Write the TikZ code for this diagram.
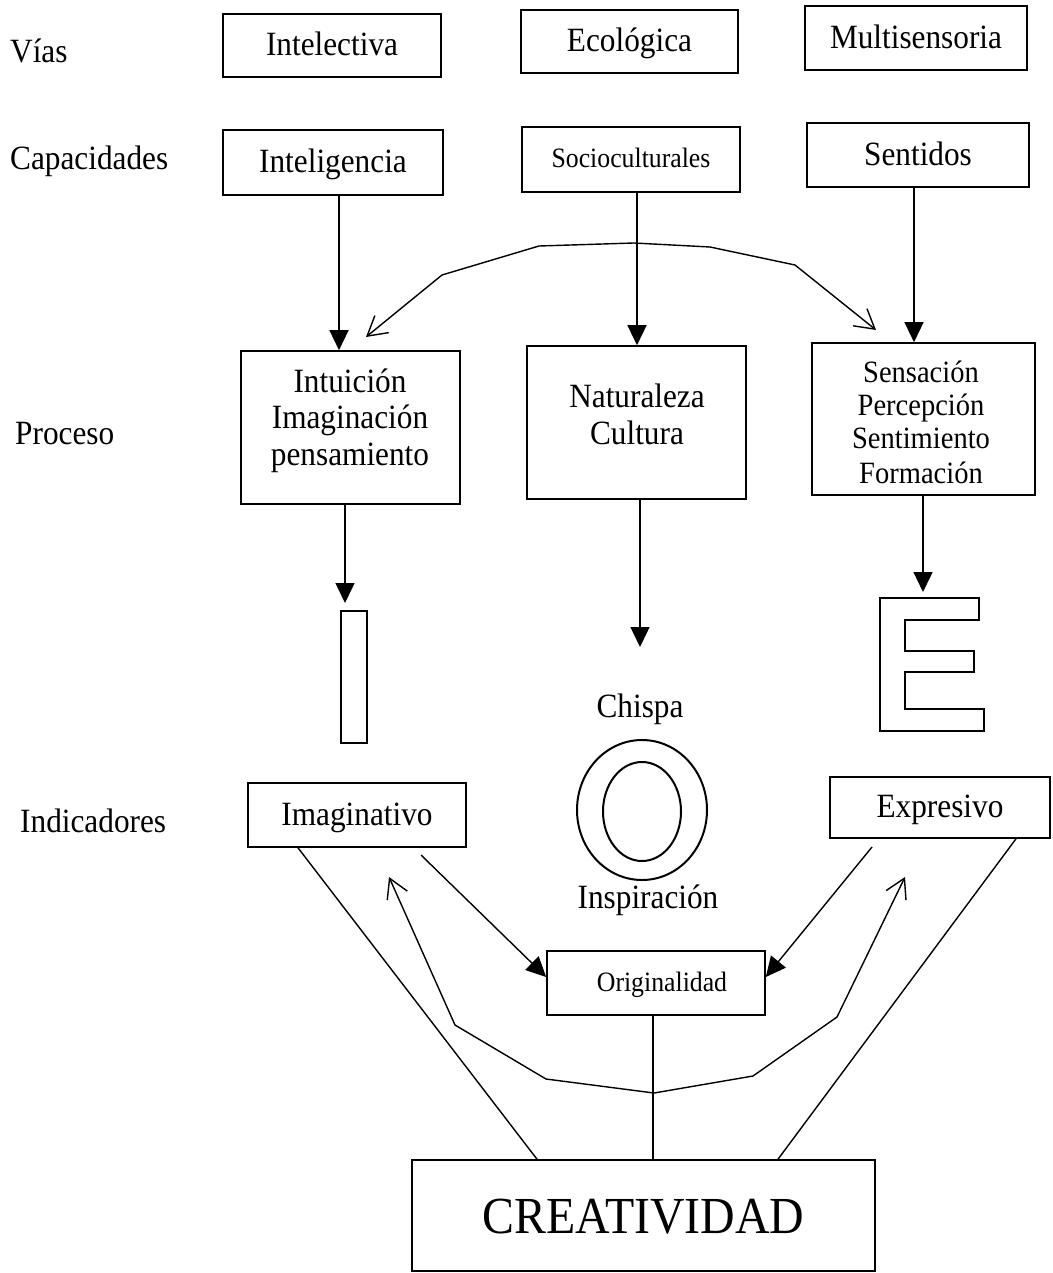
\documentclass[tikz,border=0pt]{standalone}
\usepackage{fontspec}
\setmainfont{Liberation Serif}[FakeStretch=0.92]
\usetikzlibrary{arrows.meta,shapes.geometric}
\begin{document}
\begin{tikzpicture}[x=1pt,y=-1pt,
  fs/.style={font=\fontsize{#1pt}{#1pt}\selectfont, text height={0.7*#1pt}, text depth={0.1*#1pt}},
  box/.style={draw, line width=1.6pt, inner sep=0pt},
  conn/.style={line width=1.4pt},
  fillarrow/.style={conn, -{Triangle[length=20pt,width=19pt]}},
  openarrow/.style={conn, {Straight Barb[length=19pt,width=22pt]}-{Straight Barb[length=19pt,width=22pt]}},
  lbl/.style={anchor=base west, inner sep=0pt, fs=34},
  txt/.style={anchor=base, inner sep=0pt}
]
\useasboundingbox (0,0) rectangle (1052,1273);

% row labels
\node[lbl] (lvias) at (10,63) {Vías};
\node[lbl] (lcap) at (10,170) {Capacidades};
\node[lbl] (lproc) at (15,444) {Proceso};
\node[lbl] (lind) at (20,832) {Indicadores};

% Vías
\node[box, fs=34, minimum width=218pt, minimum height=63pt] (vint) at (332,45.5) {Intelectiva};
\node[box, fs=34, minimum width=217pt, minimum height=63pt] (veco) at (629.5,41.5) {Ecológica};
\node[box, fs=34, minimum width=222pt, minimum height=64pt] (vmul) at (916,38) {Multisensoria};

% Capacidades
\node[box, fs=34, minimum width=220pt, minimum height=65pt] (cint) at (333,162.5) {Inteligencia};
\node[box, fs=28, minimum width=218pt, minimum height=65pt] (csoc) at (631,159.5) {Socioculturales};
\node[box, fs=34, minimum width=222pt, minimum height=64pt] (csen) at (918,155) {Sentidos};

% Proceso
\node[box, minimum width=219pt, minimum height=153pt] (pint) at (350.5,427.5) {};
\node[txt, fs=34] (pint1) at (350,392) {Intuición};
\node[txt, fs=34] (pint2) at (350,428) {Imaginación};
\node[txt, fs=34] (pint3) at (350,465) {pensamiento};

\node[box, minimum width=219pt, minimum height=153pt] (pnat) at (636.5,422.5) {};
\node[txt, fs=34] (pnat1) at (637,407) {Naturaleza};
\node[txt, fs=34] (pnat2) at (637,444) {Cultura};

\node[box, minimum width=223pt, minimum height=152pt] (psen) at (923.5,419) {};
\node[txt, fs=31] (psen1) at (921,382) {Sensación};
\node[txt, fs=31] (psen2) at (921,415) {Percepción};
\node[txt, fs=31] (psen3) at (921,448) {Sentimiento};
\node[txt, fs=31] (psen4) at (921,483) {Formación};

% arrows capacidades -> proceso
\draw[fillarrow] ([xshift=6pt]cint.south) -- ([xshift=6pt]cint.south |- pint.north);
\draw[fillarrow] ([xshift=6pt]csoc.south) -- ([xshift=6pt]csoc.south |- pnat.north);
\draw[fillarrow] ([xshift=-4pt]csen.south) -- ([xshift=-4pt]csen.south |- psen.north);

% curved double arrow
\coordinate (ca) at (366,337);
\coordinate (cb) at (876,330);
\draw[openarrow] (ca) -- (442,275) -- (539,246) -- (634,243) -- (710,247) -- (795,265) -- (cb);

% letters I, O, E
\node[draw, line width=1.8pt, minimum width=26pt, minimum height=132pt, inner sep=0pt] (ibar) at (354,677) {};
\node[draw, ellipse, line width=2pt, minimum width=130pt, minimum height=140pt, inner sep=0pt] (oout) at (642,810) {};
\node[draw, ellipse, line width=2pt, minimum width=78pt, minimum height=99pt, inner sep=0pt] (oin) at (642,811.5) {};
\draw[line width=1.8pt] (880,598) -- (979,598) -- (979,620) -- (905,620) -- (905,651) -- (974,651)
  -- (974,672) -- (905,672) -- (905,709) -- (984,709) -- (984,731) -- (880,731) -- cycle;

\node[txt, fs=34] (chispa) at (640,717) {Chispa};
\node[txt, fs=34] (insp) at (648,908) {Inspiración};

% arrows proceso -> letters
\coordinate (itip) at (345,603);
\coordinate (ctip) at (640,647);
\coordinate (etip) at (923,592);
\draw[fillarrow] (pint.south -| itip) -- (itip);
\draw[fillarrow] (pnat.south -| ctip) -- (ctip);
\draw[fillarrow] (psen.south -| etip) -- (etip);

% Indicadores
\node[box, fs=34, minimum width=218pt, minimum height=64pt] (iimag) at (357,815) {Imaginativo};
\node[box, fs=34, minimum width=220pt, minimum height=61pt] (iexp) at (940,807.5) {Expresivo};
\node[box, fs=28, minimum width=218pt, minimum height=64pt] (orig) at (656,983) {\hspace*{12pt}Originalidad};
\node[box, fs=52, text depth=0pt, minimum width=463pt, minimum height=111pt] (crea) at (643.5,1215.5) {CREATIVIDAD};

% arrows to Originalidad
\coordinate (ia) at (421,855);
\coordinate (ea) at (872,847);
\draw[fillarrow] (ia) -- ([yshift=6pt]orig.west);
\draw[fillarrow] (ea) -- ([yshift=6pt]orig.east);

% lines to CREATIVIDAD
\draw[conn] ([xshift=-59pt]iimag.south) -- ([xshift=-106.5pt]crea.north);
\draw[conn] ([xshift=76pt]iexp.south) -- ([xshift=134.5pt]crea.north);
\draw[conn] ([xshift=-3pt]orig.south) -- ([xshift=-3pt]orig.south |- crea.north);

% bottom double arrow
\coordinate (va) at (389,877);
\coordinate (vb) at (905,877);
\draw[openarrow] (va) -- (455,1025) -- (546,1079) -- (654,1093) -- (753,1076) -- (837,1017) -- (vb);
\end{tikzpicture}
\end{document}
